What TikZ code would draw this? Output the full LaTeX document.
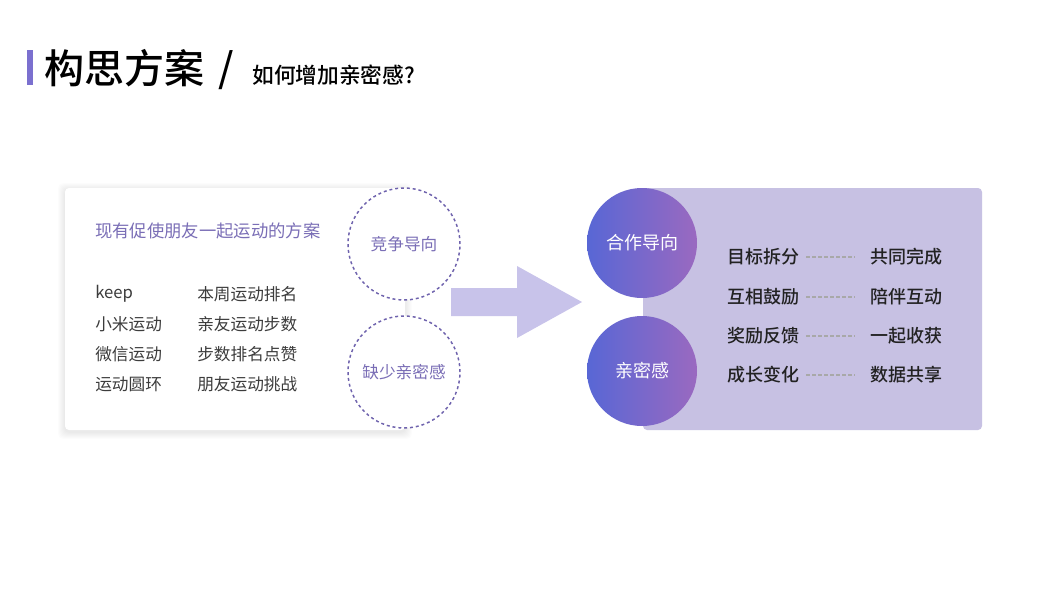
\documentclass[tikz,border=0pt]{standalone}
\usepackage{fontspec}
\setmainfont{Noto Sans CJK SC}
\IfFontExistsTF{Noto Sans CJK SC Medium}
  {\newfontfamily\medfont{Noto Sans CJK SC Medium}}
  {\newcommand\medfont{\bfseries}}
\definecolor{barpurple}{HTML}{7B70CF}
\definecolor{notepurple}{HTML}{7A6EB6}
\definecolor{ringpurple}{HTML}{6E62AD}
\definecolor{arrowlav}{HTML}{C8C3EA}
\definecolor{panellav}{HTML}{C7C1E3}
\definecolor{ballblue}{HTML}{5867D5}
\definecolor{ballpurple}{HTML}{9A69C0}
\definecolor{textdark}{HTML}{222222}
\definecolor{textgray}{HTML}{3C3C3C}
\definecolor{linkgray}{HTML}{A8A8A8}
\begin{document}
\begin{tikzpicture}[x=0.75pt, y=-0.75pt,
    listitem/.style = {anchor=west, inner sep=0pt, text=textgray, font=\fontsize{12.5}{14}\selectfont},
    goalitem/.style = {anchor=west, inner sep=0pt, text=textdark, font=\medfont\fontsize{13.5}{15}\selectfont},
    ring/.style     = {draw=ringpurple, circle, dashed, dash pattern=on 2.2pt off 2.2pt, line width=1.1pt,
                       minimum size=84pt, inner sep=0pt, text=notepurple, font=\fontsize{12.5}{14}\selectfont},
    ball/.style     = {circle, minimum size=82.5pt, inner sep=0pt, shading=axis, left color=ballblue,
                       right color=ballpurple, text=white, font=\fontsize{13.5}{15}\selectfont},
    link/.style     = {draw=linkgray, dashed, dash pattern=on 3pt off 1.5pt, line width=0.8pt}]
  \useasboundingbox[fill=white] (0,0) rectangle (1053,600);

  % title
  \fill[barpurple] (27,50) rectangle (33,85);
  \node[anchor=west, inner sep=0pt, font=\medfont\fontsize{30}{32}\selectfont] at (44,68) (title) {构思方案};
  \node[anchor=west, inner sep=0pt, font=\medfont\fontsize{30}{32}\selectfont] at (218,70) (slash) {/};
  \node[anchor=west, inner sep=0pt, font=\medfont\fontsize{16.3}{18}\selectfont] at (252,75) (subtitle) {如何增加亲密感?};

  % current solutions
  \foreach \s in {1,...,7}
    \fill[black, opacity=0.012, rounded corners=4pt] (65-\s,188-\s+2) rectangle (405+\s,430+\s+2);
  \fill[white, rounded corners=3pt] (65,188) rectangle (405,430);
  \node[anchor=west, inner sep=0pt, text=notepurple, font=\fontsize{13}{15}\selectfont] at (95,231) (heading) {现有促使朋友一起运动的方案};
  \node[listitem] at (95,294) (app1) {keep};
  \node[listitem] at (95,324) (app2) {小米运动};
  \node[listitem] at (95,354) (app3) {微信运动};
  \node[listitem] at (95,384) (app4) {运动圆环};
  \node[listitem] at (197,294) (way1) {本周运动排名};
  \node[listitem] at (197,324) (way2) {亲友运动步数};
  \node[listitem] at (197,354) (way3) {步数排名点赞};
  \node[listitem] at (197,384) (way4) {朋友运动挑战};

  \node[ring, fill=white] at (404,244) (compete) {竞争导向};
  \node[ring, fill=white] at (404,372) (lack) {缺少亲密感};

  % arrow
  \fill[arrowlav] (451,288) -- (517,288) -- (517,266) -- (582,302) -- (517,338) -- (517,316) -- (451,316) -- cycle;

  % new direction
  \fill[panellav, rounded corners=3pt] (643,188) rectangle (982,430);
  \node[ball] at (642,243) (coop) {合作导向};
  \node[ball] at (642,371) (close) {亲密感};

  \node[goalitem] at (727,257) (goal1) {目标拆分};
  \node[goalitem] at (727,297) (goal2) {互相鼓励};
  \node[goalitem] at (727,336) (goal3) {奖励反馈};
  \node[goalitem] at (727,375) (goal4) {成长变化};
  \node[goalitem] at (870,257) (gain1) {共同完成};
  \node[goalitem] at (870,297) (gain2) {陪伴互动};
  \node[goalitem] at (870,336) (gain3) {一起收获};
  \node[goalitem] at (870,375) (gain4) {数据共享};
  \foreach \i in {1,...,4}
    \draw[link] ([xshift=5pt]goal\i.east) -- ([xshift=-11pt]gain\i.west);
\end{tikzpicture}
\end{document}
